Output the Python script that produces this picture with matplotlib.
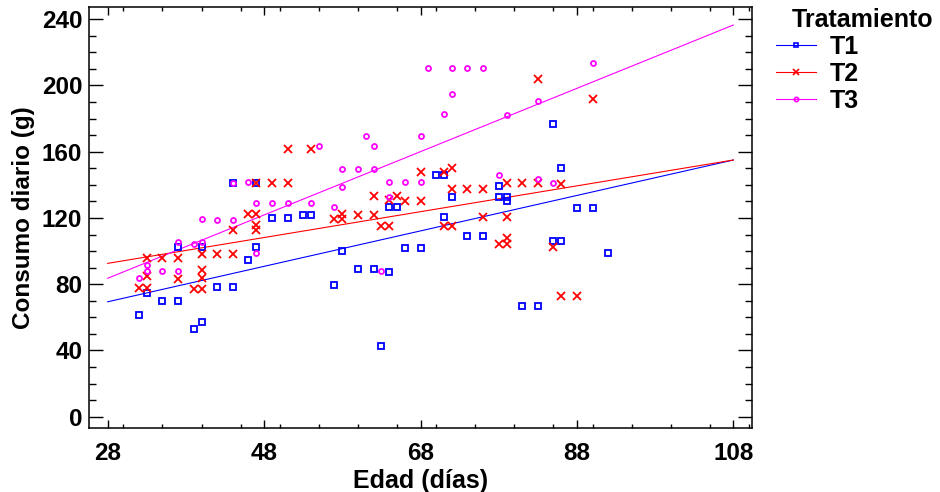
import matplotlib
matplotlib.use("Agg")
import matplotlib.pyplot as plt
from matplotlib.lines import Line2D
from matplotlib.ticker import MultipleLocator

# datos: edad (dias) y consumo diario (g)
t1_edad = [44, 47, 49, 51, 37, 40, 47, 46, 33, 35, 37, 42, 44, 32, 40, 39,
           53, 54, 70, 71, 72, 64, 65, 71, 58, 66, 68, 60, 62, 64, 57, 63,
           85, 86, 78, 78, 79, 79, 88, 90, 74, 76, 85, 86, 92, 81, 83]
t1_consumo = [141, 141, 119.8, 119.8, 102.7, 102.3, 102.7, 94.6, 74.5, 69.9,
              69.9, 78.5, 78.5, 61.4, 57, 53, 121.8, 121.8, 145.8, 145.8,
              132.9, 126.8, 126.8, 120.4, 100.1, 102, 102, 89.2, 89.2, 87.2,
              79.5, 42.9, 176.6, 150, 139.5, 132.5, 132.5, 130.4, 126.2, 126.2,
              109.1, 109.1, 106.3, 106.3, 98.7, 66.8, 66.8]

t2_edad = [51, 54, 47, 49, 51, 46, 47, 47, 47, 44, 33, 35, 37, 40, 42, 44,
           33, 37, 40, 40, 32, 33, 39, 40, 68, 71, 72, 72, 62, 65, 64, 66,
           68, 57, 58, 58, 60, 62, 63, 64, 71, 72, 83, 90, 79, 81, 83, 86,
           74, 76, 76, 79, 79, 78, 79, 85, 86, 88]
t2_consumo = [161.5, 161.5, 141, 141, 141, 122.2, 122.2, 115.8, 112.7, 112.9,
              96, 96, 96, 98, 98, 98, 85.1, 83.4, 88.6, 83.6, 77.5, 77.5, 77.1,
              77.1, 147.8, 147.8, 150.4, 137.5, 133.5, 133.5, 130.9, 130.3,
              130.3, 119.2, 122.4, 119.2, 121.8, 121.8, 115.2, 115.2, 115.2,
              115.2, 203.7, 191.7, 141.3, 141.3, 141.3, 140.5, 137.5, 137.5,
              120.8, 120.8, 107.7, 104.3, 104.3, 102.7, 72.9, 72.9]

t3_edad = [44, 46, 47, 49, 51, 40, 42, 44, 37, 39, 40, 47, 33, 33, 32, 35,
           37, 71, 61, 68, 62, 55, 58, 60, 62, 64, 66, 68, 58, 64, 54, 57,
           63, 69, 72, 74, 76, 72, 90, 83, 79, 78, 83, 85]
t3_consumo = [141, 141.7, 128.9, 129, 129, 119.2, 119, 119, 105.3, 104.3,
              105.3, 98.7, 91.4, 88, 84, 88, 88, 182.6, 169.7, 169.7, 163.6,
              163.6, 149.8, 149.8, 149.8, 141.7, 141.7, 141.7, 138.9, 132.9,
              128.9, 126.8, 88, 210.6, 210.6, 210.6, 210.6, 194.9, 213.8,
              190.8, 182, 145.8, 143.7, 141.3]

# rectas ajustadas (extremos)
recta_edad = [28, 108]
recta_t1 = [69.4, 155.0]
recta_t2 = [92.6, 155.0]
recta_t3 = [83.6, 236.5]

tratamientos = ["T1", "T2", "T3"]
colores = ["#0000FF", "#FF0000", "#FF00FF"]
marcadores = ["s", "x", "o"]
tamanos = [4.0, 5.2, 3.6]

x_ticks = [28, 48, 68, 88, 108]
y_ticks = [0, 40, 80, 120, 160, 200, 240]


def plot_consumo(series):
    plt.rcParams["font.family"] = ["Liberation Sans", "DejaVu Sans"]
    plt.rcParams["font.weight"] = "bold"

    fig = plt.figure(figsize=(9.4, 4.92), dpi=100)
    ax = fig.add_axes([89.3 / 940, 1 - 428 / 492, 662.4 / 940, 420.7 / 492])

    handles = []
    for (edad, consumo, recta), nombre, color, marca, tam in zip(
            series, tratamientos, colores, marcadores, tamanos):
        ax.plot(recta_edad, recta, color=color, linewidth=0.8, zorder=2)
        ax.plot(edad, consumo, linestyle="none", marker=marca,
                markersize=tam, markerfacecolor="none",
                markeredgecolor=color, markeredgewidth=1.3, zorder=3)
        handles.append(Line2D([0], [0], color=color, linewidth=0.8,
                              marker=marca, markersize=tam * 0.85,
                              markerfacecolor="none", markeredgecolor=color,
                              markeredgewidth=1.2))

    ax.set_xlim(25.65, 110.35)
    ax.set_ylim(-6.8, 247.2)
    ax.set_xticks(x_ticks)
    ax.set_yticks(y_ticks)
    ax.xaxis.set_minor_locator(MultipleLocator(5))
    ax.yaxis.set_minor_locator(MultipleLocator(10))

    ax.tick_params(axis="both", which="both", direction="in",
                   top=True, right=True, width=1.0, labelsize=17.5)
    ax.tick_params(axis="x", which="major", length=6, pad=10)
    ax.tick_params(axis="x", which="minor", length=3)
    ax.tick_params(axis="y", which="major", length=10, pad=5)
    ax.tick_params(axis="y", which="minor", length=5)
    for lab in ax.get_xticklabels() + ax.get_yticklabels():
        lab.set_fontweight("bold")
    for sp in ax.spines.values():
        sp.set_linewidth(1.1)

    ax.set_xlabel("Edad (días)", fontsize=18, fontweight="bold", labelpad=3)
    ax.set_ylabel("Consumo diario (g)", fontsize=17.5, fontweight="bold",
                  labelpad=5)

    fig.text(863 / 940, 1 - 20 / 492, "Tratamiento", fontsize=18,
             fontweight="bold", ha="center", va="center")
    fig.legend(handles, tratamientos, loc="upper left",
               bbox_to_anchor=(776 / 940, 1 - 35 / 492), frameon=False,
               prop={"size": 18, "weight": "bold"}, handlelength=1.6,
               handletextpad=0.55, labelspacing=0.12, borderpad=0,
               borderaxespad=0)

    fig.savefig("out.png", dpi=100)


if __name__ == "__main__":
    series = [
        (t1_edad, t1_consumo, recta_t1),
        (t2_edad, t2_consumo, recta_t2),
        (t3_edad, t3_consumo, recta_t3),
    ]
    plot_consumo(series)
